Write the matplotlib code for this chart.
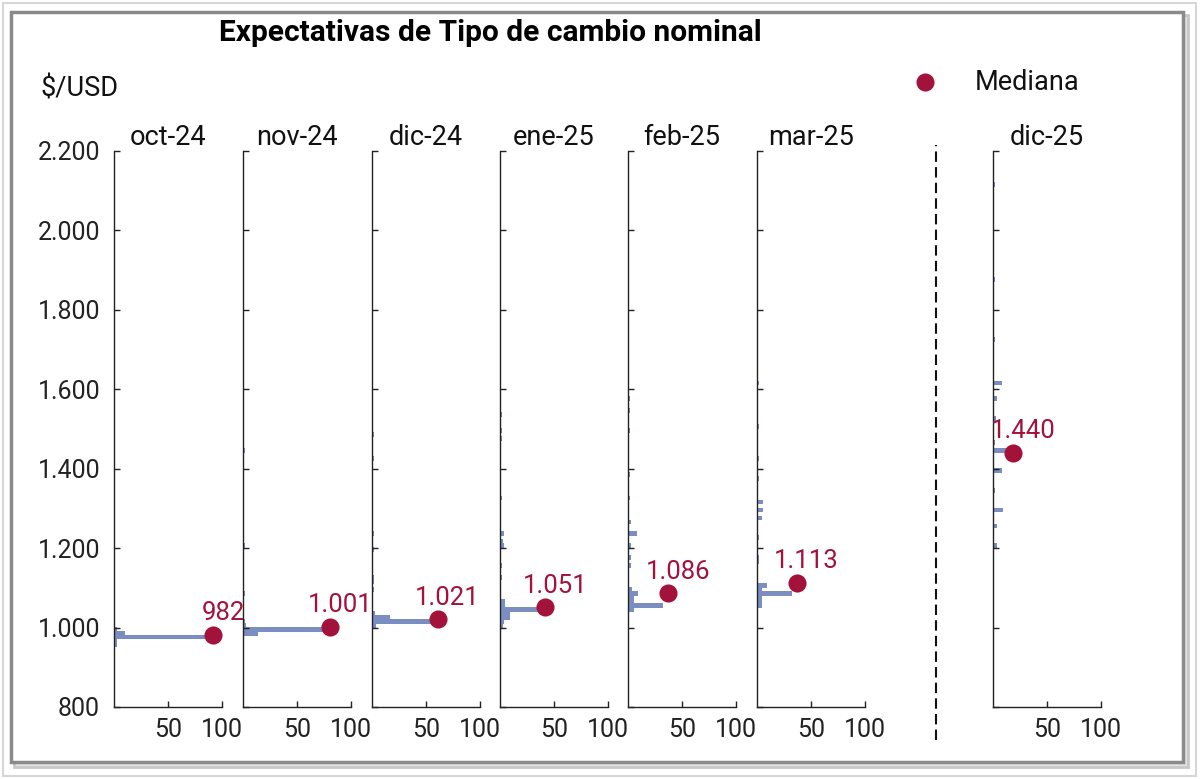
import matplotlib
matplotlib.use("Agg")
import matplotlib.pyplot as plt
from matplotlib.patches import Rectangle
from matplotlib.lines import Line2D

plt.rcParams['font.family'] = ['Roboto', 'DejaVu Sans']

# meses de la encuesta
meses = ["oct-24", "nov-24", "dic-24", "ene-25", "feb-25", "mar-25", "dic-25"]
medianas = [982, 1001, 1021, 1051, 1086, 1113, 1440]
# posicion horizontal del punto de la mediana (% de respuestas)
mediana_x = [92, 81, 61, 42, 37, 37, 18.5]

# histogramas: limite inferior del intervalo ($/USD) y % de respuestas
oct24_bins = [950, 960, 970, 980, 990]
oct24_pct = [3, 3, 92, 10, 3]
nov24_bins = [980, 990, 1000, 1010, 1080, 1200, 1440]
nov24_pct = [14, 80, 3, 2, 2, 2, 2]
dic24_bins = [1000, 1010, 1020, 1030, 1090, 1110, 1120, 1190, 1230, 1420, 1480]
dic24_pct = [4, 61, 17, 3, 2, 2, 2, 2, 2, 2, 2]
ene25_bins = [1000, 1010, 1020, 1030, 1040, 1050, 1060, 1120, 1150, 1200, 1210, 1230, 1320, 1470, 1490, 1530]
ene25_pct = [3, 4, 9, 9, 37, 5, 5, 2, 2, 4, 3, 4, 2, 2, 2, 2]
feb25_bins = [1040, 1050, 1060, 1070, 1080, 1090, 1150, 1170, 1200, 1230, 1260, 1320, 1380, 1490, 1540, 1570]
feb25_pct = [6, 32, 6, 6, 9, 4, 3, 3, 3, 8, 3, 2, 2, 2, 2, 2]
mar25_bins = [1050, 1060, 1070, 1080, 1090, 1100, 1160, 1170, 1220, 1270, 1290, 1310, 1370, 1420, 1500, 1610]
mar25_pct = [5, 5, 5, 32, 5, 9, 2, 2, 2, 5, 6, 6, 2, 2, 2, 2]
dic25_bins = [1200, 1250, 1290, 1340, 1390, 1440, 1460, 1520, 1570, 1610, 1720, 1870, 2110]
dic25_pct = [4, 4, 9, 2, 8, 16, 2, 3, 4, 8, 2, 2, 2]

bins_all = [oct24_bins, nov24_bins, dic24_bins, ene25_bins, feb25_bins, mar25_bins, dic25_bins]
pct_all = [oct24_pct, nov24_pct, dic24_pct, ene25_pct, feb25_pct, mar25_pct, dic25_pct]

yticks = [800, 1000, 1200, 1400, 1600, 1800, 2000, 2200]
xticks = [50, 100]

bar_color = "#7b8ec2"
red = "#a3123a"
W, H = 1200, 779

def fmt(v):
    return f"{v:,}".replace(",", ".")

fig = plt.figure(figsize=(12, 7.79), dpi=100)

# marco con sombra (detras de los ejes)
fig.add_artist(Rectangle((3 / W, 1 - 776 / H), 1193 / W, 773 / H, fill=False,
                         edgecolor='#d6d6d6', lw=1.5, zorder=-10))
fig.add_artist(Rectangle((14 / W, 1 - 767 / H), 1174 / W, 752 / H, fill=True,
                         facecolor='#e2e2e2', edgecolor='#c8c8c8', lw=2, zorder=-9))
fig.add_artist(Rectangle((11 / W, 1 - 762 / H), 1172 / W, 750 / H, fill=True,
                         facecolor='white', edgecolor='#8a8a8a', lw=2.5, zorder=-8))

lefts_px = [114, 243, 372, 500, 628, 757, 993]
ax_w = 108 / W
ax_b = 1 - 707 / H
ax_h = (707 - 151) / H

for i, mes in enumerate(meses):
    ax = fig.add_axes([lefts_px[i] / W, ax_b, ax_w, ax_h])
    ax.barh(bins_all[i], pct_all[i], height=12, align='edge', color=bar_color, linewidth=0)
    ax.scatter([mediana_x[i]], [medianas[i]], s=170, color=red, zorder=5, linewidths=0)
    ax.annotate(fmt(medianas[i]), (mediana_x[i], medianas[i]), xytext=(7, 7),
                textcoords='offset points', ha='center', va='bottom',
                color=red, fontsize=18.5)
    ax.set_xlim(0, 100)
    ax.set_ylim(800, 2200)
    ax.set_xticks(xticks)
    ax.set_yticks(yticks)
    ax.tick_params(direction='in', length=4, width=1, labelsize=18, colors='#222222')
    ax.tick_params(axis='x', pad=8)
    if i == 0:
        ax.set_yticklabels([fmt(v) for v in yticks])
        ax.tick_params(axis='y', pad=10)
    else:
        ax.set_yticklabels([])
    for s in ['top', 'right']:
        ax.spines[s].set_visible(False)
    for s in ['left', 'bottom']:
        ax.spines[s].set_color('#222222')
        ax.spines[s].set_linewidth(1)
    ax.set_title(mes, fontsize=19.5, pad=3, color='#111111')
    ax.patch.set_alpha(0)

# linea divisoria
fig.add_artist(Line2D([936 / W, 936 / W], [1 - 740 / H, 1 - 145 / H], color='#111111',
                      lw=1.5, linestyle=(0, (5, 2.5))))

fig.text(490 / W, 1 - 33 / H, "Expectativas de Tipo de cambio nominal", ha='center', va='center',
         fontsize=21.5, fontweight='bold')
fig.text(40 / W, 1 - 89 / H, "$/USD", ha='left', va='center', fontsize=19.5, color='#111111')
fig.add_artist(Line2D([925 / W], [1 - 82 / H], marker='o', markersize=12, color=red, lw=0))
fig.text(975 / W, 1 - 82 / H, "Mediana", ha='left', va='center', fontsize=19.5, color='#111111')

fig.savefig("out.png", dpi=100)
